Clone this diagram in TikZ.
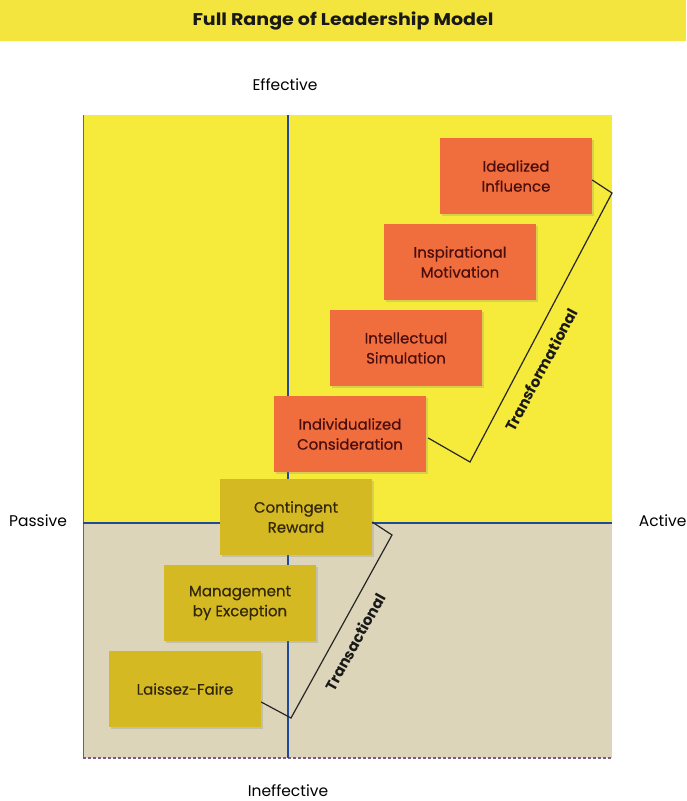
\documentclass[tikz,border=0pt]{standalone}
\usepackage{fontspec}
\setmainfont{Poppins}
\newfontfamily\boxfont[FakeBold=0.5]{Poppins}
\usetikzlibrary{shadows,calc}
\definecolor{banner}{HTML}{F3E53E}
\definecolor{upperfield}{HTML}{F6EA3A}
\definecolor{lowerfield}{HTML}{DCD5BA}
\definecolor{axisblue}{HTML}{1F4A9C}
\definecolor{orangebox}{HTML}{F06E3E}
\definecolor{goldbox}{HTML}{D5B923}
\definecolor{maroontext}{HTML}{4A0E0E}
\definecolor{browntext}{HTML}{33270A}
\tikzset{
  stylebox/.style={minimum width=152pt, minimum height=76pt, align=center,
    inner sep=2pt, font=\boxfont\fontsize{15}{20}\selectfont,
    drop shadow={opacity=0.25, shadow xshift=2pt, shadow yshift=-2pt}},
  transbox/.style={stylebox, fill=orangebox, text=maroontext},
  actbox/.style={stylebox, fill=goldbox, text=browntext},
  axisline/.style={draw=axisblue, line width=2.6pt},
  bracketline/.style={draw=black!85, line width=1.2pt},
  poletext/.style={font=\fontsize{15.5}{17}\selectfont, text=black},
  grouptext/.style={font=\bfseries\fontsize{15}{17}\selectfont, text=black!90}
}
\begin{document}
\begin{tikzpicture}[x=1pt,y=-1pt]
\useasboundingbox (0,0) rectangle (686,801);
\fill[white] (0,0) rectangle (686,801);
% title banner
\fill[banner] (0,0) rectangle (686,41);
\node[font=\bfseries\fontsize{17}{19}\selectfont, text=black!90] (title) at (343,21) {\scalebox{1.12}[1]{Full Range of Leadership Model}};
% field: effective (upper) and ineffective (lower) halves
\fill[upperfield] (83,115) rectangle (612,523);
\fill[lowerfield] (83,523) rectangle (612,758);
\draw[black!60, line width=0.8pt] (83,115) -- (83,758);
\draw[gray!70!violet, line width=1.2pt, dash pattern=on 3pt off 2pt] (83,758) -- (612,758);
% axes
\coordinate (vtop) at (288,115);
\coordinate (vbot) at (288,758);
\coordinate (hleft) at (83,523);
\coordinate (hright) at (612,523);
\draw[axisline] (vtop) -- (vbot);
\draw[axisline] (hleft) -- (hright);
% pole labels
\node[poletext] (eff) at (285,85) {Effective};
\node[poletext] (ineff) at (288,791) {Ineffective};
\node[poletext] (pas) at (38,521) {Passive};
\node[poletext, anchor=east] (act) at (690,521) {Active};
% transformational styles
\node[transbox] (ii) at (516,176) {Idealized\\Influence};
\node[transbox] (im) at (460,262) {Inspirational\\Motivation};
\node[transbox] (is) at (406,348) {Intellectual\\Simulation};
\node[transbox] (ic) at (350,434) {Individualized\\Consideration};
% transactional and passive styles
\node[actbox] (cr) at (296,517) {Contingent\\Reward};
\node[actbox] (me) at (240,603) {Management\\by Exception};
\node[actbox] (lf) at (185,689) {Laissez-Faire};
% grouping brackets
\coordinate (trtop) at (612,193);
\coordinate (trbot) at (470,462);
\coordinate (tstop) at (392,535);
\coordinate (tsbot) at (291,718);
\draw[bracketline] ($(ii.east)+(0,4)$) -- (trtop) -- (trbot) -- ($(ic.east)+(2,4)$);
\draw[bracketline] ($(cr.east)+(0,5)$) -- (tstop) -- (tsbot) -- ($(lf.east)+(0,13)$);
\node[grouptext, rotate=62] (trlabel) at (541,370) {Transformational};
\node[grouptext, rotate=61] (tslabel) at (355,642) {Transactional};
\end{tikzpicture}
\end{document}
